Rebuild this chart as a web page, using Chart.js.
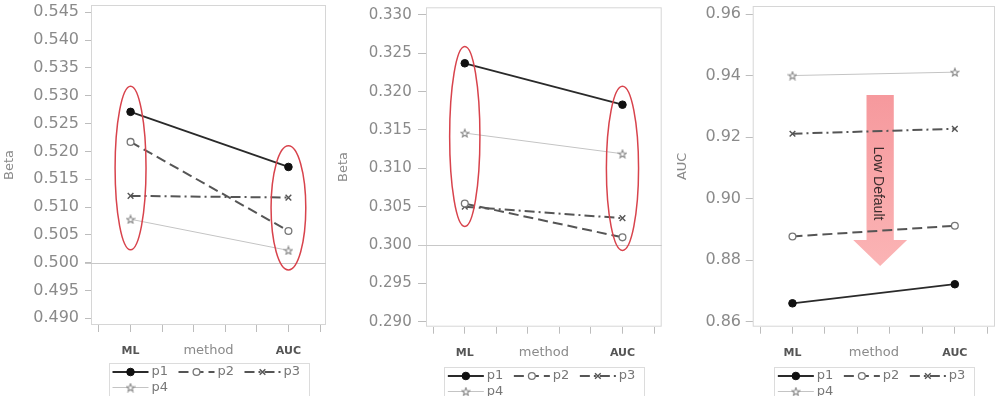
<!DOCTYPE html>
<html><head><meta charset="utf-8">
<script src="https://cdn.jsdelivr.net/npm/chart.js@4.4.1/dist/chart.umd.min.js"></script>
<style>
html,body{margin:0;padding:0;background:#fff;width:1008px;height:396px;overflow:hidden}
.p{position:absolute;top:0;width:336px;height:396px}
canvas{display:block}
</style></head><body>
<div class="p" style="left:0"><canvas id="c1" width="336" height="396"></canvas></div>
<div class="p" style="left:336px"><canvas id="c2" width="336" height="396"></canvas></div>
<div class="p" style="left:672px"><canvas id="c3" width="336" height="396"></canvas></div>
<script>
// ---------- data ----------
const categories = ['ML', 'AUC'];
const seriesNames = ['p1', 'p2', 'p3', 'p4'];
const xTicks = [0, 1, 2, 3, 4, 5, 6, 7];
const xTickLabels = ['', 'ML', '', '', '', '', 'AUC', ''];
const xTitle = 'method';

// panel 1 (Beta)
const beta1P1 = [0.5271, 0.5172];
const beta1P2 = [0.5217, 0.5057];
const beta1P3 = [0.5120, 0.5117];
const beta1P4 = [0.5078, 0.5022];
const beta1Ticks = [0.490, 0.495, 0.500, 0.505, 0.510, 0.515, 0.520, 0.525, 0.530, 0.535, 0.540, 0.545];
const beta1Ref = 0.500;
const beta1Ellipses = [
  { cat: 'ML',  yLow: 0.5023, yHigh: 0.5317, halfW: 0.49 },
  { cat: 'AUC', yLow: 0.4987, yHigh: 0.5210, halfW: 0.55 }
];

// panel 2 (Beta)
const beta2P1 = [0.3237, 0.3183];
const beta2P2 = [0.3054, 0.3010];
const beta2P3 = [0.3050, 0.3035];
const beta2P4 = [0.3146, 0.3119];
const beta2Ticks = [0.290, 0.295, 0.300, 0.305, 0.310, 0.315, 0.320, 0.325, 0.330];
const beta2Ref = 0.300;
const beta2Ellipses = [
  { cat: 'ML',  yLow: 0.3024, yHigh: 0.3259, halfW: 0.48 },
  { cat: 'AUC', yLow: 0.2993, yHigh: 0.3207, halfW: 0.51 }
];

// panel 3 (AUC)
const aucP1 = [0.8660, 0.8722];
const aucP2 = [0.8877, 0.8912];
const aucP3 = [0.9211, 0.9227];
const aucP4 = [0.9400, 0.9411];
const aucTicks = [0.86, 0.88, 0.90, 0.92, 0.94, 0.96];
const aucArrow = { x: 3.70, yTop: 0.9337, yHeadTop: 0.8866, yTip: 0.8781, shaftHalf: 0.42, headHalf: 0.83, label: 'Low Default' };

// ---------- styles ----------
const starImg = (() => {
  const c = document.createElement('canvas'); c.width = 10; c.height = 10;
  const g = c.getContext('2d');
  g.beginPath();
  for (let k = 0; k < 10; k++) {
    const r = k % 2 ? 1.8 : 4.1, a = -Math.PI / 2 + k * Math.PI / 5;
    const px = 5 + r * Math.cos(a), py = 5.4 + r * Math.sin(a);
    k ? g.lineTo(px, py) : g.moveTo(px, py);
  }
  g.closePath(); g.fillStyle = '#fff'; g.fill();
  g.strokeStyle = '#8a8a8a'; g.lineWidth = 1.1; g.stroke();
  return c;
})();

const styles = [
  { borderColor: '#2a2a2a', borderWidth: 1.8, borderDash: [], pointStyle: 'circle', pointRadius: 3.8, pointBackgroundColor: '#111', pointBorderColor: '#111', pointBorderWidth: 1 },
  { borderColor: '#555', borderWidth: 2, borderDash: [10, 5], pointStyle: 'circle', pointRadius: 3.4, pointBackgroundColor: '#fff', pointBorderColor: '#777', pointBorderWidth: 1.3 },
  { borderColor: '#555', borderWidth: 2, borderDash: [10, 4, 2, 4], pointStyle: 'crossRot', pointRadius: 4, pointBackgroundColor: '#555', pointBorderColor: '#555', pointBorderWidth: 1.4 },
  { borderColor: '#c4c4c4', borderWidth: 1, borderDash: [], pointStyle: starImg, pointRadius: 4, pointBackgroundColor: '#fff', pointBorderColor: '#8a8a8a', pointBorderWidth: 1 }
];

const FONT = "'DejaVu Sans', sans-serif";

const panels = [
  { id: 'c1', series: [beta1P1, beta1P2, beta1P3, beta1P4], yTicks: beta1Ticks, dec: 3, yTitle: 'Beta',
    ref: beta1Ref, ellipses: beta1Ellipses,
    xMin: -0.253, xMax: 7.19, yMin: 0.4888, yMax: 0.5463,
    padTop: 5, padRight: 10, yW: 91, xH: 71, yTickLen: 6, yPad: 6, yFont: 16, titlePad: 2, legendTop: 37.5 },
  { id: 'c2', series: [beta2P1, beta2P2, beta2P3, beta2P4], yTicks: beta2Ticks, dec: 3, yTitle: 'Beta',
    ref: beta2Ref, ellipses: beta2Ellipses,
    xMin: -0.23, xMax: 7.244, yMin: 0.28935, yMax: 0.331,
    padTop: 7.3, padRight: 10.3, yW: 90, xH: 69.3, yTickLen: 8, yPad: 6.3, yFont: 15, titlePad: 0, legendTop: 39.8 },
  { id: 'c3', series: [aucP1, aucP2, aucP3, aucP4], yTicks: aucTicks, dec: 2, yTitle: 'AUC',
    arrow: aucArrow,
    xMin: -0.225, xMax: 7.237, yMin: 0.8584, yMax: 0.9626,
    padTop: 6, padRight: 13, yW: 80.7, xH: 69.3, yTickLen: 7, yPad: 4.7, yFont: 16, titlePad: 3, legendTop: 39.8 }
];

function makeDecor(p) {
  return {
    id: 'decor',
    beforeDatasetsDraw(chart) {
      const { ctx, chartArea: a, scales: { x, y } } = chart;
      ctx.save();
      // frame
      ctx.strokeStyle = '#d6d6d6'; ctx.lineWidth = 1;
      ctx.strokeRect(a.left + 0.5, a.top + 0.5, a.right - a.left - 1, a.bottom - a.top - 1);
      // reference line
      if (p.ref !== undefined) {
        const yy = Math.round(y.getPixelForValue(p.ref)) + 0.5;
        ctx.strokeStyle = '#c8c8c8';
        ctx.beginPath(); ctx.moveTo(a.left - p.yTickLen, yy); ctx.lineTo(a.right, yy); ctx.stroke();
      }
      // arrow
      if (p.arrow) {
        const ar = p.arrow;
        const cx = x.getPixelForValue(ar.x);
        const sh = x.getPixelForValue(ar.x + ar.shaftHalf) - cx;
        const hh = x.getPixelForValue(ar.x + ar.headHalf) - cx;
        const yT = y.getPixelForValue(ar.yTop), yH = y.getPixelForValue(ar.yHeadTop), yP = y.getPixelForValue(ar.yTip);
        const grad = ctx.createLinearGradient(0, yT, 0, yP);
        grad.addColorStop(0, '#f6999d'); grad.addColorStop(1, '#fbb4b5');
        ctx.fillStyle = grad;
        ctx.beginPath();
        ctx.moveTo(cx - sh, yT); ctx.lineTo(cx + sh, yT); ctx.lineTo(cx + sh, yH);
        ctx.lineTo(cx + hh, yH); ctx.lineTo(cx, yP); ctx.lineTo(cx - hh, yH);
        ctx.lineTo(cx - sh, yH); ctx.closePath(); ctx.fill();
        ctx.translate(cx - 2, (yT + yH) / 2 + 16);
        ctx.rotate(Math.PI / 2);
        ctx.fillStyle = '#3a2c2c';
        ctx.font = "14px 'Liberation Sans', Arial, sans-serif";
        ctx.textAlign = 'center'; ctx.textBaseline = 'middle';
        ctx.fillText(ar.label, 0, 0);
      }
      ctx.restore();
    },
    afterDatasetsDraw(chart) {
      const { ctx, chartArea: a, scales: { x, y } } = chart;
      ctx.save();
      // ellipses
      (p.ellipses || []).forEach(e => {
        const xi = xTickLabels.indexOf(e.cat);
        const cx = x.getPixelForValue(xi);
        const rx = Math.abs(x.getPixelForValue(xi + e.halfW) - cx);
        const y1 = y.getPixelForValue(e.yHigh), y2 = y.getPixelForValue(e.yLow);
        ctx.strokeStyle = '#d8434c'; ctx.lineWidth = 1.5;
        ctx.beginPath(); ctx.ellipse(cx, (y1 + y2) / 2, rx, Math.abs(y2 - y1) / 2, 0, 0, Math.PI * 2); ctx.stroke();
      });
      // x title on tick-label line
      ctx.fillStyle = '#8a8a8a'; ctx.font = '13px ' + FONT;
      ctx.textAlign = 'center'; ctx.textBaseline = 'middle';
      ctx.fillText(xTitle, (a.left + a.right) / 2, a.bottom + 26);
      // legend
      const bw = 200, bl = (a.left + a.right) / 2 - bw / 2, bt = a.bottom + p.legendTop;
      ctx.strokeStyle = '#dcdcdc'; ctx.lineWidth = 1;
      ctx.strokeRect(Math.round(bl) + 0.5, Math.round(bt) + 0.5, bw, 40);
      chart.data.datasets.forEach((ds, i) => {
        const st = styles[i];
        const row = i < 3 ? 0 : 1, col = i % 3;
        const x0 = bl + 4 + col * 66, yy = bt + (row ? 25 : 9.5);
        ctx.strokeStyle = st.borderColor; ctx.lineWidth = st.borderWidth;
        ctx.setLineDash(st.borderDash);
        ctx.beginPath(); ctx.moveTo(x0, yy); ctx.lineTo(x0 + 36, yy); ctx.stroke();
        ctx.setLineDash([]);
        ctx.fillStyle = st.pointBackgroundColor; ctx.strokeStyle = st.pointBorderColor; ctx.lineWidth = st.pointBorderWidth;
        Chart.helpers.drawPoint(ctx, { pointStyle: st.pointStyle, radius: st.pointRadius, rotation: 0, borderWidth: st.pointBorderWidth }, x0 + 18, yy);
        ctx.fillStyle = '#777'; ctx.font = '13px ' + FONT;
        ctx.textAlign = 'left'; ctx.textBaseline = 'middle';
        ctx.fillText(ds.label, x0 + 39, yy);
      });
      ctx.restore();
    }
  };
}

panels.forEach(p => {
  const datasets = p.series.map((vals, i) => Object.assign({
    label: seriesNames[i],
    data: categories.map((c, j) => ({ x: xTickLabels.indexOf(c), y: vals[j] })),
    fill: false, tension: 0
  }, styles[i]));
  new Chart(document.getElementById(p.id), {
    type: 'line',
    data: { datasets },
    options: {
      responsive: false, animation: false, devicePixelRatio: 1,
      layout: { padding: { left: 0, right: p.padRight, top: p.padTop, bottom: 0 }, autoPadding: false },
      plugins: { legend: { display: false }, tooltip: { enabled: false } },
      scales: {
        x: {
          type: 'linear', min: p.xMin, max: p.xMax,
          afterBuildTicks: s => { s.ticks = xTicks.map(v => ({ value: v })); },
          afterFit: s => { s.height = p.xH; s.paddingLeft = 0; s.paddingRight = 0; },
          ticks: { autoSkip: false, maxRotation: 0, padding: 12.5, color: '#555',
                   font: { family: FONT, size: 11, weight: 'bold' },
                   callback: (v, i) => xTickLabels[i] },
          grid: { drawOnChartArea: false, drawTicks: true, tickLength: 7, color: '#bdbdbd' },
          border: { display: false }
        },
        y: {
          type: 'linear', min: p.yMin, max: p.yMax,
          afterBuildTicks: s => { s.ticks = p.yTicks.map(v => ({ value: v })); },
          afterFit: s => { s.width = p.yW; s.paddingTop = 0; s.paddingBottom = 0; },
          ticks: { padding: p.yPad, color: '#8a8a8a', font: { family: FONT, size: p.yFont },
                   callback: v => Number(v).toFixed(p.dec) },
          grid: { drawOnChartArea: false, drawTicks: true, tickLength: p.yTickLen, color: '#bdbdbd' },
          border: { display: false },
          title: { display: true, text: p.yTitle, color: '#8a8a8a', font: { family: FONT, size: 13 },
                   padding: { top: p.titlePad, bottom: 0 } }
        }
      }
    },
    plugins: [makeDecor(p)]
  });
});
</script>
</body></html>
